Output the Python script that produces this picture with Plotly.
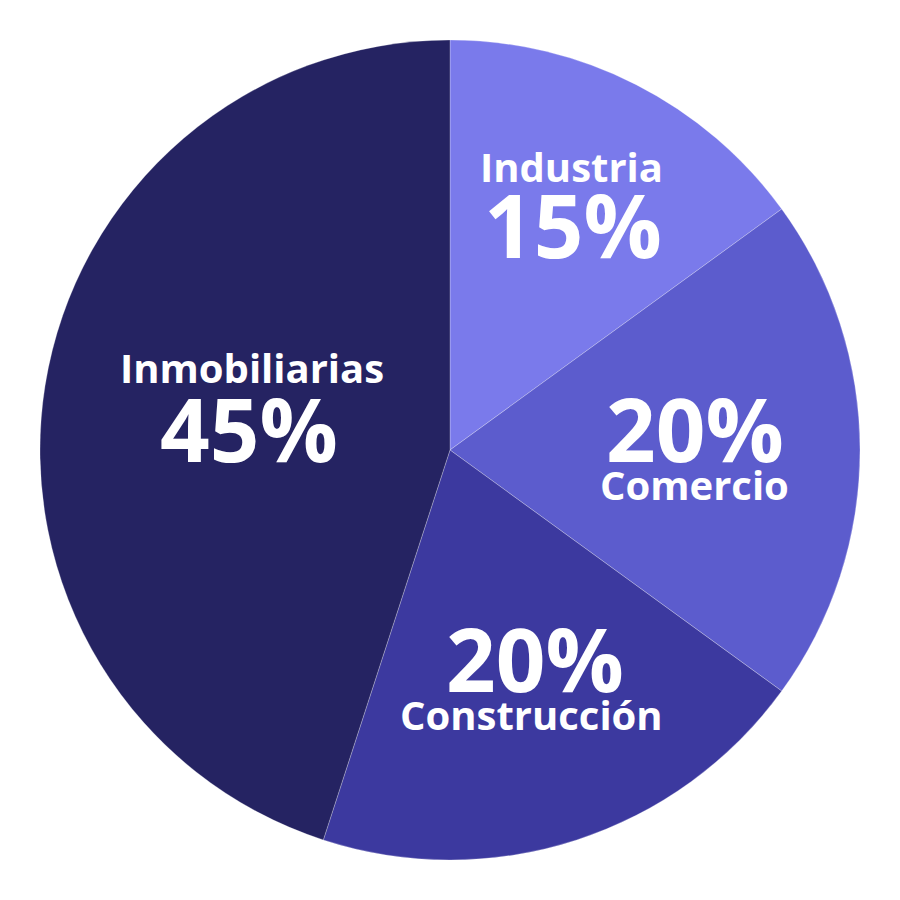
import plotly.graph_objects as go

categories = ["Industria", "Comercio", "Construcción", "Inmobiliarias"]
values = [15, 20, 20, 45]
colors = ["#7A7AEB", "#5C5CCD", "#3C399F", "#252362"]
pct_labels = ["15%", "20%", "20%", "45%"]

W = H = 900
OFF = 8  # default page body margin
ML, MT = 40 - OFF, 40 - OFF
MR, MB = 40 + OFF, 40 + OFF

def px_to_paper(x, y):
    xf, yf = x - OFF, y - OFF
    return (xf - ML) / (W - ML - MR), 1 - (yf - MT) / (H - MT - MB)

label_pos = {
    "Industria": ((571, 166.5), (573, 224)),
    "Comercio": ((694, 484.5), (695, 428)),
    "Construcción": ((531, 714.5), (535, 658)),
    "Inmobiliarias": ((252, 367.5), (249, 428)),
}

fig = go.Figure(go.Pie(
    labels=categories,
    values=values,
    sort=False,
    direction="clockwise",
    rotation=0,
    marker=dict(colors=colors, line=dict(color="rgba(255,255,255,0.25)", width=1)),
    textinfo="none",
    hoverinfo="label+percent",
    showlegend=False,
))

annotations = []
for cat, pct in zip(categories, pct_labels):
    (nx, ny), (vx, vy) = label_pos[cat]
    ax, ay = px_to_paper(nx, ny)
    annotations.append(dict(x=ax, y=ay, xref="paper", yref="paper", text=cat,
                            showarrow=False, xanchor="center", yanchor="middle",
                            font=dict(family="Open Sans", size=40, color="white", weight=700)))
    bx, by = px_to_paper(vx, vy)
    annotations.append(dict(x=bx, y=by, xref="paper", yref="paper", text=pct,
                            showarrow=False, xanchor="center", yanchor="middle",
                            font=dict(family="Open Sans", size=87, color="white", weight=700)))

fig.update_layout(
    width=W, height=H,
    margin=dict(l=ML, r=MR, t=MT, b=MB),
    paper_bgcolor="white",
    plot_bgcolor="white",
    annotations=annotations,
)

fig.write_html("out.html")
